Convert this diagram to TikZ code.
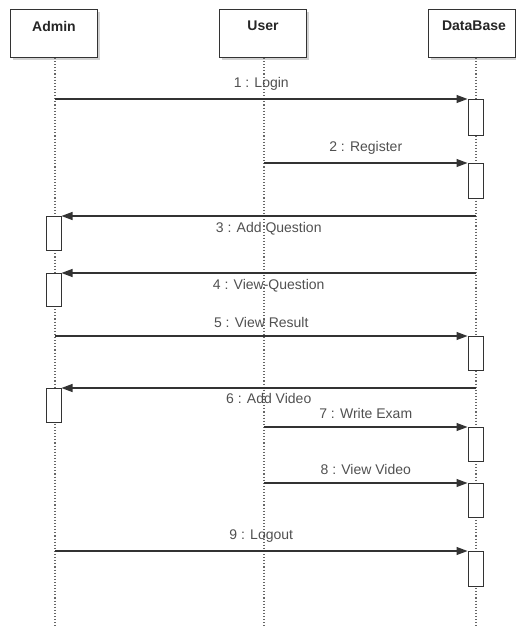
\documentclass[tikz,border=0pt]{standalone}
\usepackage{fontspec}
\setmainfont{Liberation Sans}
\usetikzlibrary{arrows.meta,shadows}
\definecolor{linec}{HTML}{333333}
\definecolor{textc}{HTML}{505050}
\definecolor{lifec}{HTML}{666666}
\begin{document}
\begin{tikzpicture}[x=1pt,y=-1pt,
  pbox/.style={draw=linec, line width=1pt, fill=white, minimum width=87pt, minimum height=48pt, inner sep=0pt,
    drop shadow={shadow xshift=2.5pt, shadow yshift=-2.5pt, fill=black!25, opacity=0.7}},
  ptext/.style={font=\fontsize{14}{16}\selectfont\bfseries, text=black!85, inner sep=0pt},
  lifeline/.style={draw=lifec, line width=1.1pt, dotted},
  actbox/.style={draw=linec, line width=1pt, fill=white, minimum width=15pt, minimum height=34pt, inner sep=0pt, anchor=north},
  msg/.style={draw=linec, line width=1.1pt, -{Triangle[length=11pt,width=8pt]}},
  mlabel/.style={font=\fontsize{14}{16}\selectfont, text=textc, inner sep=0pt}
]
\useasboundingbox (0,0) rectangle (515,631);

% participants
\node[pbox] (admin) at (54,34) {};
\node[ptext] (adminT) at (54,26) {Admin};
\node[pbox] (user) at (263,34) {};
\node[ptext] (userT) at (263,26) {User};
\node[pbox] (db) at (471.5,34) {};
\node[ptext] (dbT) at (474,26) {DataBase};

% lifeline ends
\coordinate (adminEnd) at (55,628);
\coordinate (userEnd) at (264,628);
\coordinate (dbEnd) at (476,628);
\coordinate (adminTop) at (55,58);
\coordinate (userTop) at (264,58);
\coordinate (dbTop) at (476,58);
\draw[lifeline] (adminTop) -- (adminEnd);
\draw[lifeline] (userTop) -- (userEnd);
\draw[lifeline] (dbTop) -- (dbEnd);

% activations
\node[actbox, minimum height=36pt] (act1) at (475.5,99) {};
\node[actbox, minimum height=35pt] (act2) at (475.5,163) {};
\node[actbox, minimum height=34pt] (act3) at (53.5,216) {};
\node[actbox, minimum height=33pt] (act4) at (53.5,273) {};
\node[actbox, minimum height=34pt] (act5) at (475.5,336) {};
\node[actbox, minimum height=34pt] (act6) at (53.5,388) {};
\node[actbox, minimum height=34pt] (act7) at (475.5,427) {};
\node[actbox, minimum height=34pt] (act8) at (475.5,483) {};
\node[actbox, minimum height=35pt] (act9) at (475.5,551) {};

% message start points
\coordinate (s1) at (55,99);
\coordinate (s2) at (264,163);
\coordinate (s3) at (476,216);
\coordinate (s4) at (476,273);
\coordinate (s5) at (55,336);
\coordinate (s6) at (476,388);
\coordinate (s7) at (264,427);
\coordinate (s8) at (264,483);
\coordinate (s9) at (55,551);

% messages
\draw[msg] (s1) -- node[mlabel, above=8pt] (l1) {1 : Login} (act1.north west);
\draw[msg] (s2) -- node[mlabel, above=8pt] (l2) {2 : Register} (act2.north west);
\draw[msg] (s3) -- node[mlabel, below=6pt] (l3) {3 : Add Question} (act3.north east);
\draw[msg] (s4) -- node[mlabel, below=6pt] (l4) {4 : View-Question} (act4.north east);
\draw[msg] (s5) -- node[mlabel, above=8pt] (l5) {5 : View Result} (act5.north west);
\draw[msg] (s6) -- node[mlabel, below=5pt] (l6) {6 : Add Video} (act6.north east);
\draw[msg] (s7) -- node[mlabel, above=8pt] (l7) {7 : Write Exam} (act7.north west);
\draw[msg] (s8) -- node[mlabel, above=8pt] (l8) {8 : View Video} (act8.north west);
\draw[msg] (s9) -- node[mlabel, above=8pt] (l9) {9 : Logout} (act9.north west);
\end{tikzpicture}
\end{document}
